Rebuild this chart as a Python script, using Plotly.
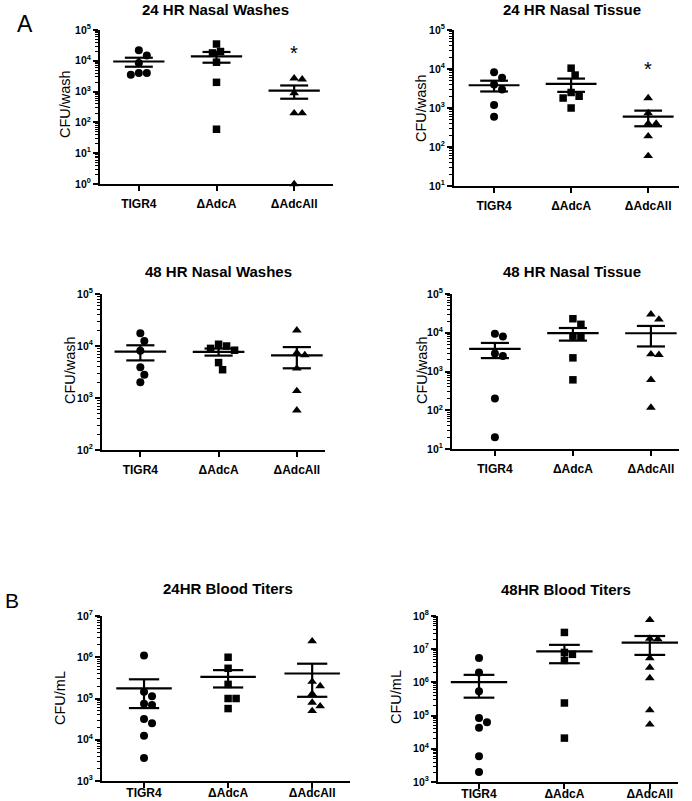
import math
import numpy as np
import plotly.graph_objects as go

W, H = 692, 801

categories = ["TIGR4", "ΔAdcA", "ΔAdcAll"]

# ---- data (CFU values; 0 = below detection, drawn on the axis) ----
wash24_tigr4 = [2.2e4, 1.5e4, 8.5e3, 4.0e3, 3.5e3, 4.0e3]
wash24_adcA = [3.5e4, 2.0e4, 1.8e4, 9.0e3, 2.0e3, 60]
wash24_adcAll = [2.7e3, 2.5e3, 900, 200, 200, 0]

tissue24_tigr4 = [8.2e3, 6.0e3, 4.0e3, 3.0e3, 1.2e3, 600]
tissue24_adcA = [1.05e4, 7.0e3, 2.5e3, 2.0e3, 1.8e3, 1.0e3]
tissue24_adcAll = [1.8e3, 740, 400, 400, 190, 59]

wash48_tigr4 = [1.75e4, 1.25e4, 8.1e3, 3.9e3, 2.8e3, 2.0e3]
wash48_adcA = [1.08e4, 1.0e4, 9.0e3, 8.3e3, 4.8e3, 3.5e3]
wash48_adcAll = [2.0e4, 7.4e3, 6.7e3, 3.7e3, 1.37e3, 580]

tissue48_tigr4 = [9.4e3, 8.0e3, 2.9e3, 2.5e3, 200, 20]
tissue48_adcA = [2.3e4, 1.65e4, 8.2e3, 8.0e3, 2.25e3, 610]
tissue48_adcAll = [3.0e4, 2.2e4, 2.8e3, 2.7e3, 610, 117]

blood24_tigr4 = [1.1e6, 1.45e5, 1.14e5, 7.5e4, 7.0e4, 3.2e4, 2.5e4, 1.25e4, 3.6e3]
blood24_adcA = [1.0e6, 5.4e5, 2.2e5, 1.0e5, 1.0e5, 5.7e4]
blood24_adcAll = [2.45e6, 2.55e5, 2.0e5, 1.3e5, 8.0e4, 6.5e4, 5.0e4, 0]

blood48_tigr4 = [5.4e6, 2.0e6, 5.4e5, 8.5e4, 6.3e4, 4.3e4, 6.0e3, 2.0e3]
blood48_adcA = [3.2e7, 8.0e6, 7.0e6, 4.6e6, 2.4e5, 2.1e4]
blood48_adcAll = [7.6e7, 2.1e7, 2.0e7, 5.4e6, 2.8e6, 1.35e6, 1.45e5, 5.4e4]

panel_titles = ["24 HR Nasal Washes", "24 HR Nasal Tissue", "48 HR Nasal Washes",
                "48 HR Nasal Tissue", "24HR Blood Titers", "48HR Blood Titers"]
y_titles = ["CFU/wash", "CFU/wash", "CFU/wash", "CFU/wash", "CFU/mL", "CFU/mL"]
y_decades = [(0, 5), (1, 5), (2, 5), (1, 5), (3, 7), (3, 8)]
significance_marks = [(2, 10 ** 4.25), (2, 10 ** 4.0), None, None, None, None]

panel_data = [
    [wash24_tigr4, wash24_adcA, wash24_adcAll],
    [tissue24_tigr4, tissue24_adcA, tissue24_adcAll],
    [wash48_tigr4, wash48_adcA, wash48_adcAll],
    [tissue48_tigr4, tissue48_adcA, tissue48_adcAll],
    [blood24_tigr4, blood24_adcA, blood24_adcAll],
    [blood48_tigr4, blood48_adcA, blood48_adcAll],
]

# ---- layout geometry (pixels) ----
boxes = [  # x0, x1, y_top, y_bottom
    (100, 333, 30, 184),
    (454, 679, 30, 186),
    (102, 325, 294, 450),
    (452, 679, 294, 449),
    (102, 350, 616, 781),
    (438, 678, 616, 782),
]
x_ranges = [(-0.5, 2.5), (-0.52, 2.4), (-0.49, 2.36), (-0.55, 2.36), (-0.5, 2.45), (-0.48, 2.33)]
x_label_shift = [3, 3, 3, 3, -5, -5]
title_pos = [(215, 9), (572, 9), (218, 272), (572, 272), (228, 588), (566, 589)]
ytitle_pos = [(65, 104), (421, 108), (70, 370), (422, 370), (60, 698), (396, 697)]

symbols = ["circle", "square", "triangle-up"]
marker_sizes = [8, 7.5, 8.5]
FONT = "Arial, Liberation Sans, sans-serif"


def swarm(values, lo, ppd, ppc, d=8.0):
    order = sorted(range(len(values)), key=lambda i: -values[i])
    placed = []
    offs = [0.0] * len(values)
    ks = [0] + [s * k for k in range(1, 30) for s in (1, -1)]
    for i in order:
        v = max(values[i], 10 ** lo)
        y = math.log10(v) * ppd
        x = 0.0
        for k in ks:
            x = k * d * 0.5
            if all(math.hypot(x - px, y - py) >= d * 0.95 for px, py in placed):
                break
        placed.append((x, y))
        offs[i] = x / ppc
    return offs


def px2x(px):
    return px / W


def px2y(py):
    return 1 - py / H


fig = go.Figure()
annotations = []
layout = {}

for p in range(6):
    ax = "" if p == 0 else str(p + 1)
    xa, ya = "x" + ax, "y" + ax
    x0, x1, yt, yb = boxes[p]
    lo, hi = y_decades[p]
    xr = x_ranges[p]
    ppc = (x1 - x0) / (xr[1] - xr[0])
    ppd = (yb - yt) / (hi - lo)

    for g, vals in enumerate(panel_data[p]):
        offs = swarm(vals, lo, ppd, ppc)
        xs = [g + o for o in offs]
        ys = [max(v, 10 ** lo) for v in vals]
        fig.add_trace(go.Scatter(
            x=xs, y=ys, mode="markers", xaxis=xa, yaxis=ya, showlegend=False,
            cliponaxis=False,
            marker=dict(symbol=symbols[g], size=marker_sizes[g], color="black", line=dict(width=0)),
        ))
        arr = np.array(vals, dtype=float)
        mean = arr.mean()
        sem = arr.std(ddof=1) / math.sqrt(len(arr))
        up, dn = mean + sem, max(mean - sem, 10 ** lo)
        mw, sw = 0.33, 0.18
        lx = [g - mw, g + mw, None, g - sw, g + sw, None, g - sw, g + sw, None, g, g]
        ly = [mean, mean, None, up, up, None, dn, dn, None, dn, up]
        fig.add_trace(go.Scatter(
            x=lx, y=ly, mode="lines", xaxis=xa, yaxis=ya, showlegend=False,
            line=dict(color="black", width=2.2),
        ))

    minor_vals = [m * 10 ** k for k in range(lo, hi) for m in range(2, 10)]
    layout["xaxis" + ax] = dict(
        domain=[px2x(x0), px2x(x1)], anchor=ya, range=list(xr), automargin=False,
        tickmode="array", tickvals=[0, 1, 2], ticktext=categories,
        showline=True, linecolor="black", linewidth=2, ticks="outside",
        ticklen=5, tickwidth=2, tickcolor="black", showgrid=False, zeroline=False,
        ticklabelstandoff=x_label_shift[p],
        tickfont=dict(family=FONT, size=12, color="black", weight="bold"),
        fixedrange=True,
    )
    layout["yaxis" + ax] = dict(
        domain=[px2y(yb), px2y(yt)], anchor=xa, type="log", range=[lo, hi], automargin=False,
        tickmode="array", tickvals=[10 ** k for k in range(lo, hi + 1)],
        ticktext=["10<sup>%d</sup>" % k for k in range(lo, hi + 1)],
        showline=True, linecolor="black", linewidth=2, ticks="outside",
        ticklen=5, tickwidth=2, tickcolor="black", showgrid=False, zeroline=False,
        minor=dict(tickmode="array", tickvals=minor_vals, ticks="outside", ticklen=3,
                   tickwidth=1, tickcolor="black", showgrid=False),
        tickfont=dict(family=FONT, size=10.5, color="black", weight="bold"),
        fixedrange=True,
    )

    tx, ty = title_pos[p]
    annotations.append(dict(
        text=panel_titles[p], x=px2x(tx), y=px2y(ty), xref="paper", yref="paper",
        xanchor="center", yanchor="middle", showarrow=False,
        font=dict(family=FONT, size=15, color="black", weight="bold"),
    ))
    yx, yy = ytitle_pos[p]
    annotations.append(dict(
        text=y_titles[p], x=px2x(yx), y=px2y(yy), xref="paper", yref="paper",
        xanchor="center", yanchor="middle", showarrow=False, textangle=-90,
        font=dict(family=FONT, size=14.5, color="black"),
    ))
    if significance_marks[p] is not None:
        sx, sy = significance_marks[p]
        annotations.append(dict(
            text="*", x=sx, y=math.log10(sy), xref=xa, yref=ya,
            xanchor="center", yanchor="middle", showarrow=False,
            font=dict(family=FONT, size=20, color="black"),
        ))

annotations.append(dict(text="A", x=px2x(25), y=px2y(24), xref="paper", yref="paper",
                        xanchor="center", yanchor="middle", showarrow=False,
                        font=dict(family=FONT, size=23, color="black")))
annotations.append(dict(text="B", x=px2x(12), y=px2y(600), xref="paper", yref="paper",
                        xanchor="center", yanchor="middle", showarrow=False,
                        font=dict(family=FONT, size=21, color="black")))

fig.update_layout(
    width=W, height=H, margin=dict(l=0, r=0, t=0, b=0, autoexpand=False),
    paper_bgcolor="white", plot_bgcolor="white",
    annotations=annotations, showlegend=False,
    **layout,
)

fig.write_html("out.html", config={"displayModeBar": False},
               post_script="document.body.style.margin='0';document.body.style.overflow='hidden';")
